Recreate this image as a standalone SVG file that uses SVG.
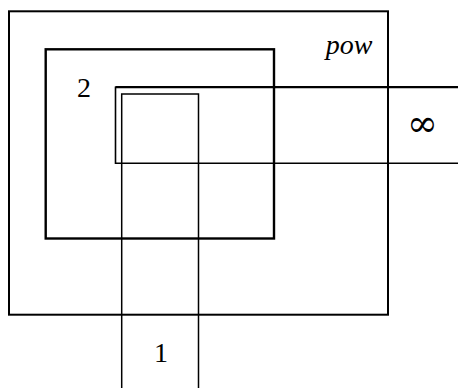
<svg xmlns="http://www.w3.org/2000/svg" width="458" height="388" viewBox="0 0 458 388">
<style>
.s{fill:none;stroke:#000;stroke-linecap:square}
.t{font-family:"Liberation Serif","DejaVu Serif",serif;font-size:28px;fill:#000}
.i{font-style:italic}
.m{font-family:"DejaVu Serif",serif;font-size:37px}
</style>
<rect width="458" height="388" fill="#fff"/>
<g id="pow">
<rect class="s" x="9" y="11.3" width="379" height="303.4" stroke-width="2"/>
<text class="t i" x="349" y="54" text-anchor="middle">pow</text>
</g>
<g id="two">
<rect class="s" x="45.7" y="49.3" width="228.3" height="189.2" stroke-width="2.4"/>
<text class="t" x="84" y="97.3" text-anchor="middle">2</text>
</g>
<g id="infinity">
<path class="s" d="M458 87.2H115.5V163.3H458" stroke-width="1.6"/>
<path class="s" d="M115.5 87.2H458" stroke-width="2.3" style="stroke-linecap:butt"/>
<text class="t m" x="422.5" y="136" text-anchor="middle">∞</text>
</g>
<g id="one">
<path class="s" d="M121.7 388V94H198.5V388" stroke-width="1.5" style="stroke-linecap:butt"/>
<text class="t" x="161" y="361.7" text-anchor="middle">1</text>
</g>
</svg>
